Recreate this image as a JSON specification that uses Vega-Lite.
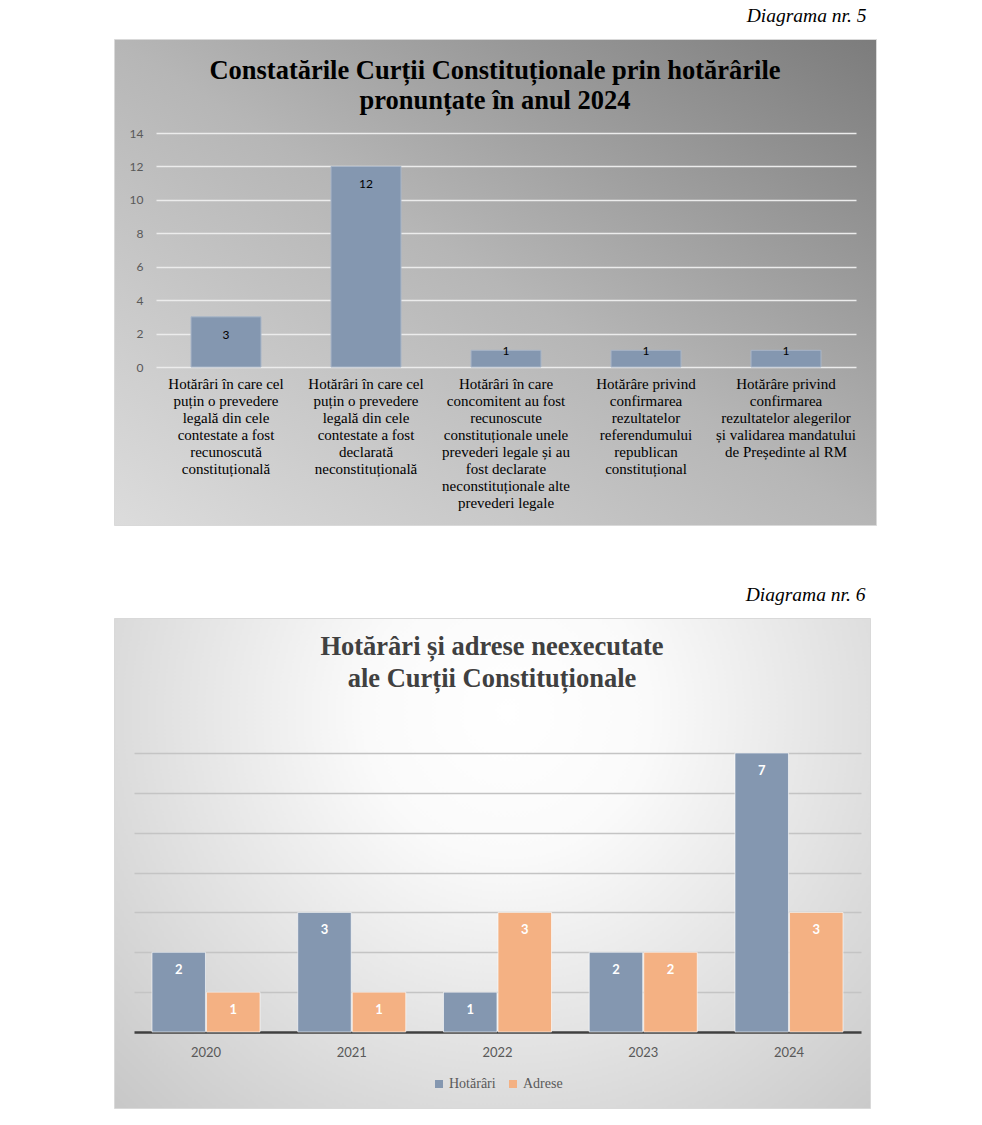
{
  "$schema": "https://vega.github.io/schema/vega-lite/v6.json",
  "background": "white",
  "padding": {"left": 113, "top": 6, "right": 5, "bottom": 5},
  "spacing": 59,
  "resolve": {"legend": {"color": "independent"}},
  "config": {
    "font": "Liberation Serif",
    "title": {"font": "Liberation Serif"},
    "axis": {"labelFont": "Lato"}
  },
  "vconcat": [
    {
      "title": {"text": "Diagrama nr. 5", "anchor": "end", "frame": "bounds", "font": "Liberation Serif", "fontStyle": "italic", "fontWeight": "normal", "fontSize": 19.5, "color": "#000000", "offset": 12, "dx": -10},
      "vconcat": [
        {
          "width": 762,
          "height": 486,
          "view": {
            "stroke": "#d9d9d9",
            "strokeWidth": 1,
            "fill": {"gradient": "linear", "x1": 0, "y1": 1, "x2": 1, "y2": 0,
              "stops": [{"offset": 0, "color": "#dcdcdc"}, {"offset": 0.5, "color": "#b6b6b6"}, {"offset": 1, "color": "#7c7c7c"}]}
          },
          "title": {
            "text": ["Constatările Curții Constituționale prin hotărârile", "pronunțate în anul 2024"],
            "anchor": "middle", "frame": "group",
            "font": "Liberation Serif", "fontSize": 26.5, "fontWeight": "bold", "color": "#000000",
            "lineHeight": 30, "offset": -75
          },
          "data": {"values": [
            {"categorie": "Hotărâri în care cel\npuțin o prevedere\nlegală din cele\ncontestate a fost\nrecunoscută\nconstituțională", "numar": 3},
            {"categorie": "Hotărâri în care cel\npuțin o prevedere\nlegală din cele\ncontestate a fost\ndeclarată\nneconstituțională", "numar": 12},
            {"categorie": "Hotărâri în care\nconcomitent au fost\nrecunoscute\nconstituționale unele\nprevederi legale și au\nfost declarate\nneconstituționale alte\nprevederi legale", "numar": 1},
            {"categorie": "Hotărâre privind\nconfirmarea\nrezultatelor\nreferendumului\nrepublican\nconstituțional", "numar": 1},
            {"categorie": "Hotărâre privind\nconfirmarea\nrezultatelor alegerilor\nși validarea mandatului\nde Președinte al RM", "numar": 1}
          ]},
          "encoding": {
            "x": {
              "field": "categorie", "type": "nominal", "sort": null,
              "scale": {"range": [42, 742], "paddingInner": 0.5, "paddingOuter": 0.25},
              "axis": {
                "orient": "bottom", "offset": -158, "title": null, "domain": false, "ticks": false, "grid": false,
                "labelAngle": 0, "labelFont": "Liberation Serif", "labelFontSize": 15, "labelColor": "#000000",
                "labelExpr": "split(datum.label, '\\n')", "labelLineHeight": 17, "labelBaseline": "top",
                "labelPadding": 9, "labelLimit": 0, "labelOverlap": false
              }
            },
            "y": {
              "field": "numar", "type": "quantitative",
              "scale": {"domain": [0, 14], "range": [328, 94], "nice": false, "zero": true},
              "axis": {
                "orient": "left", "offset": -42, "title": null, "domain": false, "ticks": false,
                "values": [0, 2, 4, 6, 8, 10, 12, 14], "grid": true, "gridColor": "#ececec", "gridWidth": 1.5,
                "labelFont": "Lato", "labelFontSize": 12, "labelColor": "#595959", "labelPadding": 13
              }
            }
          },
          "layer": [
            {"mark": {"type": "bar", "color": "#8497B0", "stroke": "#a9b6c8", "strokeWidth": 1}},
            {
              "transform": [{"filter": "datum.numar > 1"}],
              "mark": {"type": "text", "baseline": "middle", "dy": 18, "font": "Lato", "fontSize": 12, "color": "#000000"},
              "encoding": {"text": {"field": "numar", "type": "quantitative"}}
            },
            {
              "transform": [{"filter": "datum.numar <= 1"}],
              "mark": {"type": "text", "baseline": "middle", "dy": 1, "font": "Lato", "fontSize": 12, "color": "#000000"},
              "encoding": {"text": {"field": "numar", "type": "quantitative"}}
            }
          ]
        }
      ]
    },
    {
      "title": {"text": "Diagrama nr. 6", "anchor": "end", "frame": "bounds", "font": "Liberation Serif", "fontStyle": "italic", "fontWeight": "normal", "fontSize": 19.5, "color": "#000000", "offset": 12, "dx": -5},
      "resolve": {"legend": {"color": "independent"}},
      "vconcat": [
        {
          "width": 756,
          "height": 490,
          "view": {
            "stroke": "#d9d9d9",
            "strokeWidth": 1,
            "fill": {"gradient": "radial", "x1": 0.52, "y1": 0.3, "r1": 0, "x2": 0.52, "y2": 0.3, "r2": 0.75,
              "stops": [{"offset": 0, "color": "#ffffff"}, {"offset": 0.25, "color": "#fafafa"}, {"offset": 1, "color": "#c6c6c6"}]}
          },
          "title": {
            "text": ["Hotărâri și adrese neexecutate", "ale Curții Constituționale"],
            "anchor": "middle", "frame": "group",
            "font": "Liberation Serif", "fontSize": 26.5, "fontWeight": "bold", "color": "#404040",
            "lineHeight": 32, "offset": -74
          },
          "data": {"values": [
            {"an": "2020", "tip": "Hotărâri", "numar": 2},
            {"an": "2020", "tip": "Adrese", "numar": 1},
            {"an": "2021", "tip": "Hotărâri", "numar": 3},
            {"an": "2021", "tip": "Adrese", "numar": 1},
            {"an": "2022", "tip": "Hotărâri", "numar": 1},
            {"an": "2022", "tip": "Adrese", "numar": 3},
            {"an": "2023", "tip": "Hotărâri", "numar": 2},
            {"an": "2023", "tip": "Adrese", "numar": 2},
            {"an": "2024", "tip": "Hotărâri", "numar": 7},
            {"an": "2024", "tip": "Adrese", "numar": 3}
          ]},
          "encoding": {
            "x": {
              "field": "an", "type": "nominal", "sort": null,
              "scale": {"range": [20, 747], "paddingInner": 0.259, "paddingOuter": 0.1235},
              "axis": {
                "orient": "bottom", "offset": -76, "title": null, "ticks": false, "grid": false,
                "domain": true, "domainColor": "#404040", "domainWidth": 2.5,
                "labelAngle": 0, "labelFont": "Lato", "labelFontSize": 13, "labelColor": "#595959",
                "labelPadding": 14
              }
            },
            "xOffset": {"field": "tip", "type": "nominal", "sort": ["Hotărâri", "Adrese"], "scale": {"paddingInner": 0.02}},
            "y": {
              "field": "numar", "type": "quantitative",
              "scale": {"domain": [0, 7], "range": [414, 135], "nice": false},
              "axis": {
                "orient": "left", "offset": -20, "title": null, "domain": false, "ticks": false, "labels": false,
                "values": [1, 2, 3, 4, 5, 6, 7], "grid": true, "gridColor": "#c4c4c4", "gridWidth": 1.5
              }
            }
          },
          "layer": [
            {
              "mark": {"type": "bar", "stroke": "#ffffff", "strokeOpacity": 0.6, "strokeWidth": 1},
              "encoding": {
                "color": {
                  "field": "tip", "type": "nominal",
                  "scale": {"domain": ["Hotărâri", "Adrese"], "range": ["#8497B0", "#F4B183"]},
                  "legend": {
                    "orient": "none", "legendX": 318, "legendY": 459, "direction": "horizontal", "title": null,
                    "symbolType": "square", "symbolSize": 64, "symbolStrokeWidth": 0, "symbolOffset": 0,
                    "labelFont": "Liberation Serif", "labelFontSize": 14, "labelColor": "#595959",
                    "labelOffset": 3, "columnPadding": 10
                  }
                }
              }
            },
            {
              "mark": {"type": "text", "baseline": "middle", "dy": 18, "font": "Lato", "fontWeight": "bold", "fontSize": 13, "color": "#ffffff"},
              "encoding": {"text": {"field": "numar", "type": "quantitative"}}
            }
          ]
        }
      ]
    }
  ]
}
